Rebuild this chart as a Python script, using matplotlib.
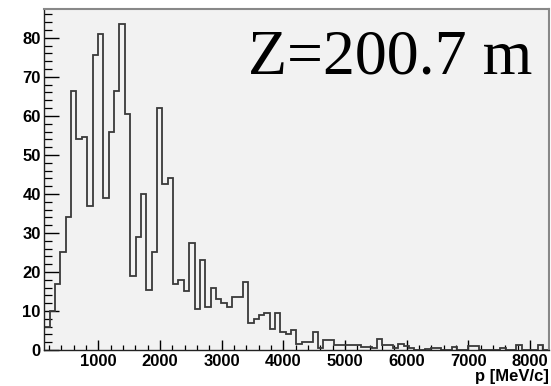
import numpy as np
import matplotlib
matplotlib.use("Agg")
import matplotlib.pyplot as plt
from matplotlib.ticker import MultipleLocator, FixedLocator

# Histogram data (momentum distribution at Z=200.7 m)
x_min = 125.0
bin_width = 87.0
counts = [
    6, 10, 17, 25, 34, 66.5, 54, 54.5, 37, 75.5,
    81, 39, 56, 66.5, 83.5, 60.5, 19, 29, 40, 15.5,
    25, 62, 42.5, 44, 17, 18, 15, 27.5, 10.5, 23,
    11, 16, 13, 12, 11, 13.5, 13.5, 17.5, 7, 8,
    9, 9.5, 5.5, 9.5, 4.5, 4, 5, 1.5, 2, 2,
    4.6, 0.5, 2.5, 2.5, 1.4, 1.4, 1.4, 1.2, 1.2, 0.8,
    0.8, 0.5, 2.9, 1.2, 1.4, 0.5, 1.6, 1.0, 0.5, 0,
    0, 0.3, 0.5, 0.5, 0, 0, 0.7, 0, 0, 0.9,
    0.9, 0, 0, 0, 0, 0.4, 0, 0, 1.4, 0,
    0, 0, 1.4, 0,
]
x_ticks = [1000, 2000, 3000, 4000, 5000, 6000, 7000, 8000]
y_ticks = [0, 10, 20, 30, 40, 50, 60, 70, 80]
x_label = "p [MeV/c]"
annotation = "Z=200.7 m"

edges = x_min + bin_width * np.arange(len(counts) + 1)

W, H = 551, 386
fig = plt.figure(figsize=(W / 100, H / 100), dpi=100)
fig.patch.set_facecolor("white")
ax = fig.add_axes([44.3 / W, 1 - 350 / H, (549 - 44.3) / W, (350 - 9) / H])
ax.set_facecolor("#f2f2f2")

ax.stairs(counts, edges, color="#3a3a3a", linewidth=1.3, zorder=2)

ax.set_xlim(x_min, 8309)
ax.set_ylim(0, 87.4)

ax.xaxis.set_major_locator(FixedLocator(x_ticks))
ax.xaxis.set_minor_locator(MultipleLocator(200))
ax.yaxis.set_major_locator(FixedLocator(y_ticks))
ax.yaxis.set_minor_locator(MultipleLocator(2))

ax.tick_params(axis="x", which="major", direction="in", length=7.2, width=1.0,
               pad=3.0, colors="black", top=False)
ax.tick_params(axis="x", which="minor", direction="in", length=3.6, width=0.9,
               top=False)
ax.tick_params(axis="y", which="major", direction="in", length=10.8, width=1.0,
               pad=2.5, colors="black", right=False)
ax.tick_params(axis="y", which="minor", direction="in", length=5.4, width=0.9,
               right=False)

tick_font = dict(family=["Liberation Sans", "DejaVu Sans"], weight="bold", size=12)
ax.set_xticklabels([str(t) for t in x_ticks], fontdict=tick_font)
ax.set_yticklabels([str(t) for t in y_ticks], fontdict=tick_font)

for side in ["top", "right"]:
    ax.spines[side].set_color("#888888")
    ax.spines[side].set_linewidth(1.5)
for side in ["left", "bottom"]:
    ax.spines[side].set_color("#222222")
    ax.spines[side].set_linewidth(1.0)

fig.text(549 / W, 1 - 381 / H, x_label, ha="right", va="baseline",
         family=["Liberation Sans", "DejaVu Sans"], weight="bold", size=12)

fig.text(248 / W, 1 - 74 / H, annotation, ha="left", va="baseline",
         family=["Liberation Serif", "DejaVu Serif"], size=46)

fig.savefig("out.png", dpi=100, facecolor="white")
